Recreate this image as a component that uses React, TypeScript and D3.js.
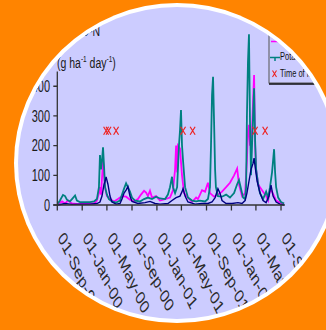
import React from "react";
import * as d3 from "d3";

const W = 326;
const H = 330;

// fertiliser application dates (plotted at a fixed level)
const fertDates = ["2000-04-27", "2000-05-09", "2000-06-15", "2001-05-09", "2001-06-25", "2002-04-27", "2002-06-15"];
const fertLevel = 250;

const yTicks = [0, 100, 200, 300, 400];

type Pt = [string, number];

const magentaSeries: Pt[] = [
  ["1999-09-04", 3], ["1999-09-24", 12], ["1999-10-09", 5], ["1999-10-23", 15], ["1999-11-12", 5],
  ["1999-12-11", 3], ["2000-01-20", 5], ["2000-02-28", 5], ["2000-03-13", 15], ["2000-03-23", 40],
  ["2000-03-28", 60], ["2000-04-02", 35], ["2000-04-07", 90], ["2000-04-12", 150], ["2000-04-17", 100],
  ["2000-04-22", 60], ["2000-05-01", 30], ["2000-05-16", 20], ["2000-06-05", 12], ["2000-06-24", 20],
  ["2000-07-14", 30], ["2000-08-03", 28], ["2000-08-22", 18], ["2000-09-11", 12], ["2000-09-30", 20],
  ["2000-10-15", 35], ["2000-10-30", 48], ["2000-11-09", 42], ["2000-11-18", 30], ["2000-11-28", 48],
  ["2000-12-08", 25], ["2000-12-28", 30], ["2001-01-16", 15], ["2001-02-10", 20], ["2001-03-06", 25],
  ["2001-03-21", 50], ["2001-03-31", 120], ["2001-04-05", 200], ["2001-04-10", 110], ["2001-04-14", 200],
  ["2001-04-24", 190], ["2001-05-04", 100], ["2001-05-14", 40], ["2001-06-02", 25], ["2001-06-22", 10],
  ["2001-07-12", 25], ["2001-07-21", 20], ["2001-08-10", 50], ["2001-08-25", 45], ["2001-09-08", 75],
  ["2001-09-18", 40], ["2001-10-08", 28], ["2001-10-27", 35], ["2001-11-16", 45], ["2001-12-06", 60],
  ["2001-12-25", 75], ["2002-01-14", 100], ["2002-01-29", 123], ["2002-02-07", 70], ["2002-02-22", 30],
  ["2002-03-09", 40], ["2002-03-18", 150], ["2002-03-23", 250], ["2002-03-28", 270], ["2002-04-02", 200],
  ["2002-04-12", 250], ["2002-04-17", 350], ["2002-04-22", 438], ["2002-04-27", 200], ["2002-05-02", 120],
  ["2002-05-12", 70], ["2002-05-21", 60], ["2002-06-05", 45], ["2002-06-20", 30], ["2002-06-30", 15],
  ["2002-07-09", 50], ["2002-07-19", 45], ["2002-07-29", 30], ["2002-08-08", 15], ["2002-08-27", 8],
  ["2002-09-16", 5],
];

const tealSeries: Pt[] = [
  ["1999-09-04", 5], ["1999-09-14", 15], ["1999-09-29", 34], ["1999-10-09", 30], ["1999-10-18", 18],
  ["1999-11-02", 12], ["1999-11-12", 20], ["1999-11-27", 32], ["1999-12-06", 15], ["1999-12-21", 10],
  ["2000-01-20", 10], ["2000-02-08", 10], ["2000-02-28", 12], ["2000-03-13", 20], ["2000-03-23", 60],
  ["2000-03-28", 168], ["2000-04-02", 120], ["2000-04-07", 150], ["2000-04-12", 194], ["2000-04-17", 130],
  ["2000-04-22", 60], ["2000-05-01", 35], ["2000-05-11", 20], ["2000-05-26", 12], ["2000-06-15", 8],
  ["2000-07-04", 15], ["2000-07-14", 35], ["2000-07-24", 55], ["2000-08-03", 73], ["2000-08-12", 60],
  ["2000-08-22", 45], ["2000-09-01", 25], ["2000-09-16", 15], ["2000-10-10", 12], ["2000-10-30", 20],
  ["2000-11-18", 25], ["2000-12-08", 20], ["2000-12-28", 28], ["2001-01-16", 22], ["2001-02-10", 20],
  ["2001-02-24", 35], ["2001-03-06", 60], ["2001-03-16", 95], ["2001-03-21", 60], ["2001-03-31", 40],
  ["2001-04-10", 60], ["2001-04-19", 200], ["2001-04-24", 250], ["2001-04-29", 320], ["2001-05-04", 200],
  ["2001-05-09", 150], ["2001-05-19", 60], ["2001-06-02", 25], ["2001-06-22", 15], ["2001-07-12", 12],
  ["2001-07-31", 15], ["2001-08-25", 12], ["2001-09-08", 20], ["2001-09-18", 60], ["2001-09-23", 200],
  ["2001-09-28", 370], ["2001-10-03", 432], ["2001-10-08", 280], ["2001-10-13", 120], ["2001-10-17", 60],
  ["2001-10-27", 30], ["2001-11-16", 28], ["2001-12-06", 35], ["2001-12-25", 25], ["2002-01-14", 40],
  ["2002-01-29", 70], ["2002-02-07", 84], ["2002-02-17", 55], ["2002-02-27", 25], ["2002-03-09", 20],
  ["2002-03-14", 60], ["2002-03-18", 300], ["2002-03-23", 480], ["2002-03-28", 575], ["2002-04-02", 280],
  ["2002-04-07", 100], ["2002-04-12", 200], ["2002-04-17", 300], ["2002-04-22", 393], ["2002-04-27", 220],
  ["2002-05-02", 120], ["2002-05-12", 70], ["2002-05-21", 40], ["2002-06-05", 20], ["2002-06-20", 45],
  ["2002-06-30", 25], ["2002-07-09", 60], ["2002-07-19", 110], ["2002-07-29", 188], ["2002-08-03", 110],
  ["2002-08-08", 60], ["2002-08-18", 25], ["2002-09-01", 10], ["2002-09-16", 5],
];

const navySeries: Pt[] = [
  ["1999-09-04", 0], ["1999-10-09", 5], ["1999-11-12", 2], ["1999-12-21", 3], ["2000-02-08", 3],
  ["2000-03-13", 5], ["2000-03-28", 10], ["2000-04-07", 30], ["2000-04-17", 70], ["2000-04-22", 80],
  ["2000-04-27", 95], ["2000-05-06", 70], ["2000-05-16", 30], ["2000-05-26", 10], ["2000-06-15", 3],
  ["2000-07-04", 5], ["2000-07-14", 20], ["2000-07-24", 40], ["2000-08-03", 50], ["2000-08-12", 62],
  ["2000-08-22", 30], ["2000-09-01", 12], ["2000-09-30", 5], ["2000-11-04", 8], ["2000-11-28", 12],
  ["2000-12-23", 5], ["2001-01-16", 3], ["2001-02-24", 5], ["2001-03-16", 15], ["2001-04-05", 25],
  ["2001-04-24", 30], ["2001-05-04", 45], ["2001-05-09", 55], ["2001-05-19", 30], ["2001-06-02", 10],
  ["2001-07-07", 3], ["2001-08-10", 5], ["2001-09-08", 5], ["2001-09-28", 10], ["2001-10-13", 25],
  ["2001-10-27", 55], ["2001-11-06", 40], ["2001-11-16", 15], ["2001-12-06", 5], ["2002-01-04", 5],
  ["2002-02-02", 8], ["2002-02-22", 5], ["2002-03-09", 15], ["2002-03-18", 40], ["2002-03-28", 80],
  ["2002-04-07", 120], ["2002-04-17", 140], ["2002-04-22", 158], ["2002-04-27", 130], ["2002-05-07", 80],
  ["2002-05-21", 40], ["2002-06-05", 15], ["2002-06-20", 8], ["2002-07-04", 30], ["2002-07-14", 67],
  ["2002-07-24", 30], ["2002-08-08", 10], ["2002-08-27", 3], ["2002-09-16", 0],
];

const parse = d3.timeParse("%Y-%m-%d");
const fmt = d3.timeFormat("%d-%b-%y");
const font = "'Liberation Sans', Arial, sans-serif";

export default function App() {
  const x = d3
    .scaleTime()
    .domain([parse("1999-09-01")!, parse("2002-09-20")!])
    .range([57.3, 284.9]);
  const y = d3.scaleLinear().domain([0, 450]).range([205, 71.4]);

  const line = d3
    .line<Pt>()
    .x(d => x(parse(d[0])!))
    .y(d => y(d[1]));

  const xTicks = x.ticks(d3.timeMonth.every(4)!);

  return (
    <svg width={W} height={H} style={{ position: "absolute", left: 0, top: 0 }}>
      <defs>
        <clipPath id="plate">
          <ellipse cx={177} cy={163} rx={159} ry={156} />
        </clipPath>
      </defs>
      <rect width={W} height={H} fill="#FF8400" />
      <ellipse cx={177} cy={163} rx={163} ry={160} fill="#ffffff" />
      <g clipPath="url(#plate)">
        <rect width={W} height={H} fill="#CCCCFF" />

        {/* axis title */}
        <text transform="translate(100,36) scale(1,1.42)" fontFamily={font} fontSize={10.5} fill="#1a1a1a" textAnchor="end">
          N<tspan fontSize={7} dy={2}>2</tspan><tspan dy={-2}>O-N</tspan>
        </text>
        <text transform="translate(57,68) scale(1,1.42)" fontFamily={font} fontSize={10.5} fill="#1a1a1a">
          (g ha<tspan fontSize={6.5} dy={-4}>-1</tspan><tspan dy={4}> day</tspan><tspan fontSize={6.5} dy={-4}>-1</tspan><tspan dy={4}>)</tspan>
        </text>

        {/* lines */}
        <path d={line(magentaSeries)!} fill="none" stroke="#FF00FF" strokeWidth={1.8} />
        <path d={line(tealSeries)!} fill="none" stroke="#008080" strokeWidth={1.8} />
        <path d={line(navySeries)!} fill="none" stroke="#000080" strokeWidth={1.4} />

        {/* fertiliser markers */}
        {fertDates.map(d => {
          const cx = x(parse(d)!);
          const cy = y(fertLevel);
          return (
            <path
              key={d}
              d={`M${cx - 2.5},${cy - 4}L${cx + 2.5},${cy + 4}M${cx + 2.5},${cy - 4}L${cx - 2.5},${cy + 4}`}
              stroke="#EE2222"
              strokeWidth={1.2}
            />
          );
        })}

        {/* y axis */}
        <line x1={57.3} x2={57.3} y1={y(450)} y2={y(0)} stroke="#333" strokeWidth={1.3} />
        {yTicks.map(t => (
          <g key={t}>
            <line x1={53.3} x2={57.3} y1={y(t)} y2={y(t)} stroke="#333" strokeWidth={1.3} />
            <text
              transform={`translate(50,${y(t)}) scale(1,1.45)`}
              dy="0.35em"
              textAnchor="end"
              fontFamily={font}
              fontSize={11}
              fill="#1a1a1a"
            >
              {t}
            </text>
          </g>
        ))}

        {/* x axis */}
        <line x1={53.3} x2={284.9} y1={y(0)} y2={y(0)} stroke="#333" strokeWidth={1.3} />
        {xTicks.map(t => (
          <g key={+t}>
            <line x1={x(t)} x2={x(t)} y1={y(0)} y2={y(0) + 5.5} stroke="#333" strokeWidth={1.3} />
            <text
              transform={`translate(${x(t)},238) scale(1,1.45) rotate(55.9)`}
              fontFamily={font}
              fontSize={13.4}
              fill="#2a2a2a"
            >
              {fmt(t)}
            </text>
          </g>
        ))}

        {/* legend */}
        <rect x={269} y={10} width={80} height={73} fill="#CCCCFF" stroke="#555" strokeWidth={1} />
        <line x1={269} x2={349} y1={84} y2={84} stroke="#111" strokeWidth={1.5} />
        <line x1={271} x2={279} y1={24} y2={24} stroke="#000080" strokeWidth={1.5} />
        <line x1={271} x2={279} y1={41.5} y2={41.5} stroke="#FF00FF" strokeWidth={1.5} />
        <line x1={270} x2={280} y1={57.5} y2={57.5} stroke="#008080" strokeWidth={1.5} />
        <line x1={275} x2={275} y1={57.5} y2={61} stroke="#008080" strokeWidth={1.5} />
        <path d="M272.5,70.5L276.5,77M276.5,70.5L272.5,77" stroke="#EE2222" strokeWidth={1.1} />
        <text transform="translate(280,27) scale(1,1.4)" fontFamily={font} fontSize={7.5} fill="#111">Cabbage</text>
        <text transform="translate(280,44) scale(1,1.4)" fontFamily={font} fontSize={7.5} fill="#111">Carrot</text>
        <text transform="translate(280,60) scale(1,1.4)" fontFamily={font} fontSize={7.5} fill="#111">Potato</text>
        <text transform="translate(280,77) scale(1,1.4)" fontFamily={font} fontSize={7.5} fill="#111">Time of fertilisation</text>
      </g>
    </svg>
  );
}
